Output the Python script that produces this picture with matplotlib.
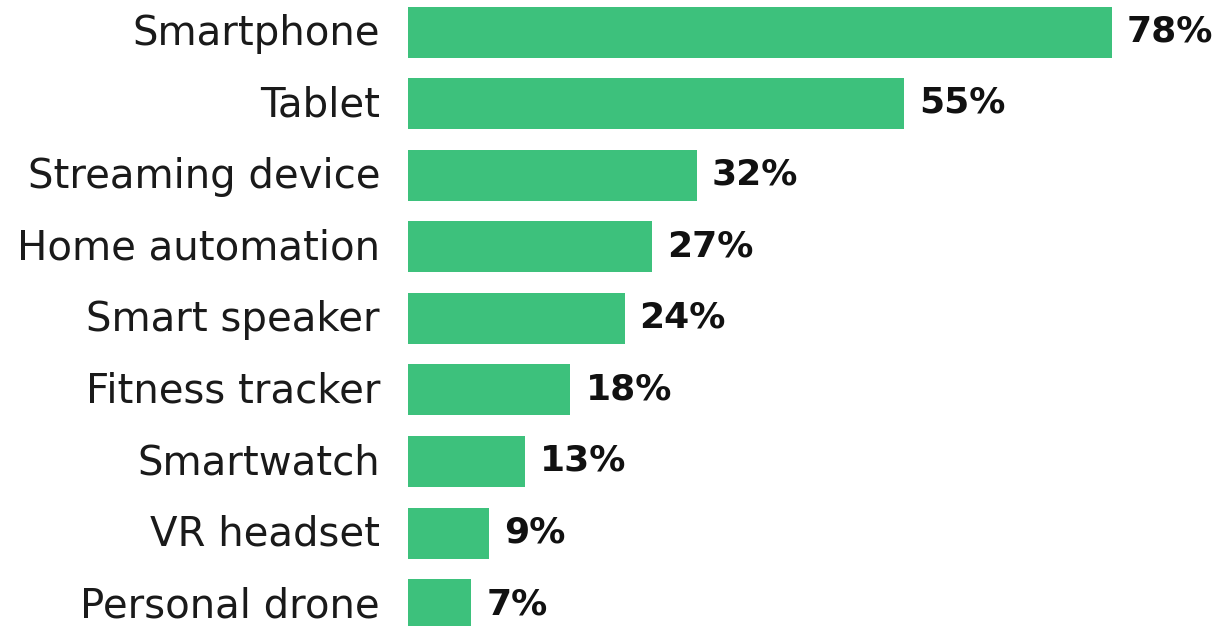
import matplotlib.pyplot as plt
from matplotlib.transforms import ScaledTranslation

categories = ["Smartphone", "Tablet", "Streaming device", "Home automation",
              "Smart speaker", "Fitness tracker", "Smartwatch", "VR headset",
              "Personal drone"]
values = [78, 55, 32, 27, 24, 18, 13, 9, 7]
value_labels = [f"{v}%" for v in values]

BAR_COLOR = "#3dc17c"
FONT = "DejaVu Sans"

W, H = 1221, 626
fig = plt.figure(figsize=(W / 100, H / 100), dpi=100)
# axes spans from bar left edge to the right border, full height
ax = fig.add_axes([408 / W, 0, 1 - 408 / W, 1])

px_per_pct = (1112 - 408) / 78
row = 71.6
first_center = 32
ax.set_xlim(0, (W - 408) / px_per_pct)
ax.set_ylim((H - first_center) / row, -first_center / row)

ypos = list(range(len(categories)))
ax.barh(ypos, values, height=51 / row, color=BAR_COLOR)

for y, v, lab in zip(ypos, values, value_labels):
    ax.annotate(lab, (v, y), xytext=(15 * 0.72, 0.5), textcoords="offset points",
                va="center", ha="left", fontsize=26, fontweight="bold",
                family=FONT, color="#111111")

ax.set_yticks(ypos)
ax.set_yticklabels(categories, family=FONT, fontsize=29, color="#1a1a1a")
ax.tick_params(axis="y", length=0, pad=28 * 0.72)
# nudge category labels up a little
shift = ScaledTranslation(0, 3 / 100, fig.dpi_scale_trans)
for t in ax.get_yticklabels():
    t.set_transform(t.get_transform() + shift)
ax.set_xticks([])
for s in ax.spines.values():
    s.set_visible(False)

fig.savefig("out.png", dpi=100)
